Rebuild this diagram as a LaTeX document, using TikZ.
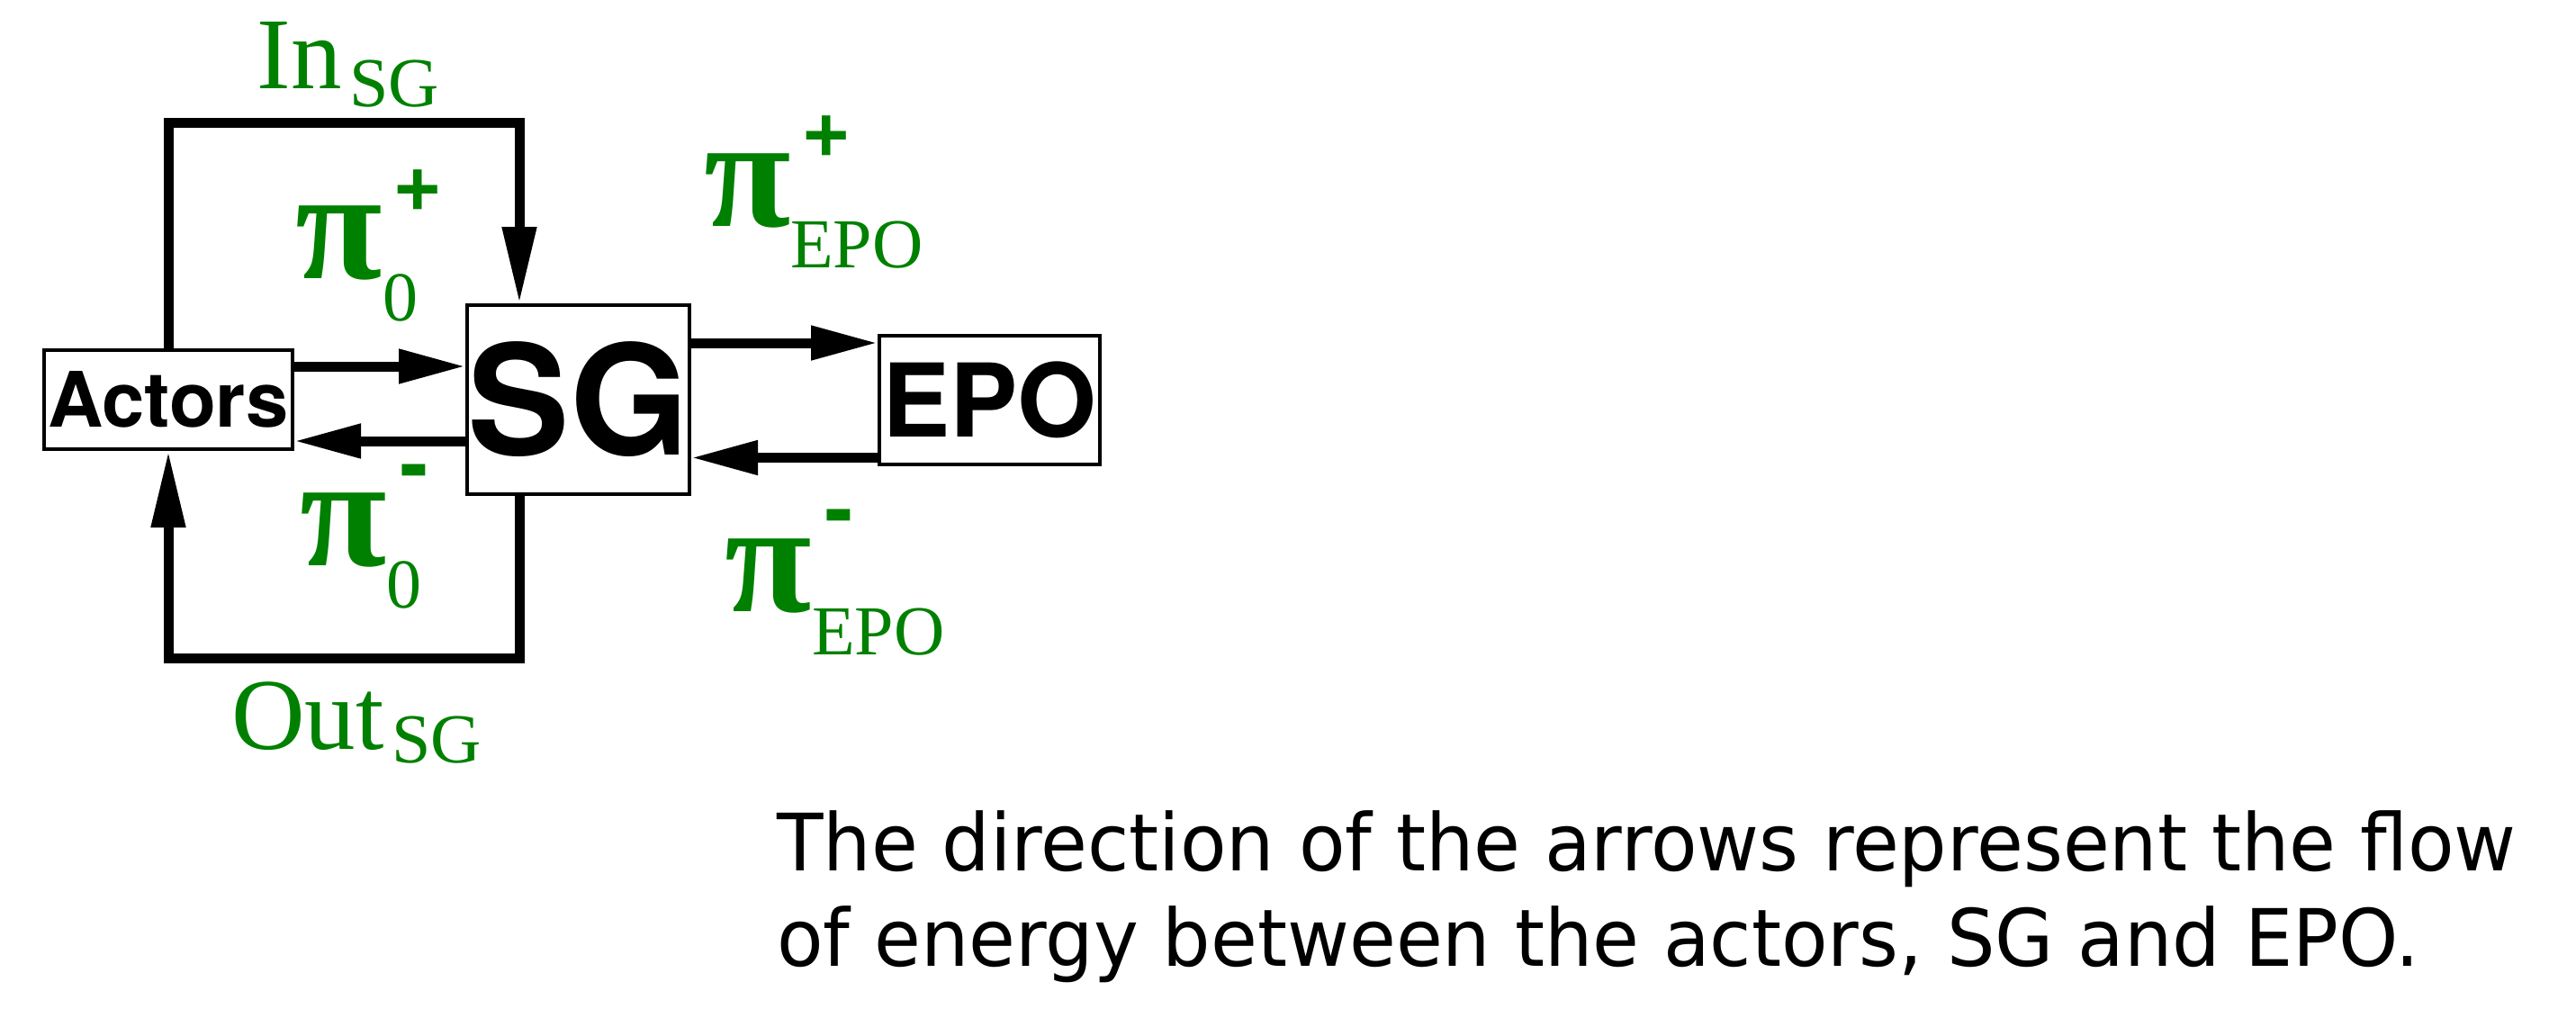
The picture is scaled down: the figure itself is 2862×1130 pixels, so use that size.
\documentclass[tikz,border=0pt]{standalone}
\usepackage{fontspec}
\setmainfont{Liberation Serif}
\newfontfamily\heros{TeX Gyre Heros}
\newfontfamily\capfont[FakeStretch=0.958]{DejaVu Sans}
\usetikzlibrary{arrows.meta}
\definecolor{labgreen}{RGB}{0,128,0}
\tikzset{
  box/.style={draw, line width=4pt, inner sep=0pt, font=\heros\bfseries},
  lbl/.style={text=labgreen, inner sep=0pt, anchor=base west},
  pisym/.style={lbl, font=\bfseries\fontsize{176}{200}\selectfont},
  subtxt/.style={lbl, font=\fontsize{78}{90}\selectfont},
  maintxt/.style={lbl, font=\fontsize{113}{130}\selectfont},
  sgn/.style={text=labgreen, inner sep=0pt, anchor=center, font=\heros\bfseries\fontsize{95}{110}\selectfont},
  captxt/.style={inner sep=0pt, anchor=base west, font=\capfont\fontsize{88}{106}\selectfont},
  harr/.style={line width=11pt, -{Triangle[length=74pt,width=36pt]}},
  varr/.style={line width=11pt, -{Triangle[length=85pt,width=36pt]}}
}
\begin{document}
\begin{tikzpicture}[x=1pt,y=-1pt]
\useasboundingbox (0,0) rectangle (2862,1130);
% boxes
\node[box, minimum width=276pt, minimum height=110pt, font=\heros\bfseries\fontsize{85}{100}\selectfont] (actors) at (187,444) {Actors};
\node[box, minimum width=247pt, minimum height=210pt, font=\heros\bfseries\fontsize{170}{200}\selectfont] (sg) at (642.5,444) {SG};
\node[box, minimum width=245pt, minimum height=143pt, font=\heros\bfseries\fontsize{113}{130}\selectfont] (epo) at (1099.5,444.5) {EPO};
% loop corners
\coordinate (tr) at (577,136);
\coordinate (br) at (577,731);
% connectors
\draw[varr] (actors.north) |- (tr) -- (tr |- sg.north);
\draw[varr] (br |- sg.south) -- (br) -| (actors.south);
\draw[harr] (actors.east |- 0,407) -- (sg.west |- 0,407);
\draw[harr] (sg.west |- 0,490) -- (actors.east |- 0,490);
\draw[harr] (sg.east |- 0,381) -- (epo.west |- 0,381);
\draw[harr] (epo.west |- 0,508.5) -- (sg.east |- 0,508.5);
% labels
\node[maintxt] (in) at (285.5,98) {In};
\node[subtxt] (insub) at (388,118) {SG};
\node[maintxt] (out) at (257,832) {Out};
\node[subtxt] (outsub) at (435,847) {SG};
\node[pisym] (pi0p) at (328,309) {π};
\node[subtxt] (pi0psub) at (425,356) {0};
\node[sgn] (pi0psup) at (464.5,211.5) {+};
\node[pisym] (pi0m) at (333,628) {π};
\node[subtxt] (pi0msub) at (429,675) {0};
\node[sgn] (pi0msup) at (460,532) {-};
\node[pisym] (piep) at (782,251) {π};
\node[subtxt] (piepsub) at (878,297) {EPO};
\node[sgn] (piepsup) at (918.5,152) {+};
\node[pisym] (piem) at (805,679) {π};
\node[subtxt] (piemsub) at (902,727) {EPO};
\node[sgn] (piemsup) at (932.5,582) {-};
% caption
\node[captxt] (cap1) at (863,967) {The direction of the arrows represent the flow};
\node[captxt] (cap2) at (863,1073) {of energy between the actors, SG and EPO.};
\end{tikzpicture}
\end{document}
